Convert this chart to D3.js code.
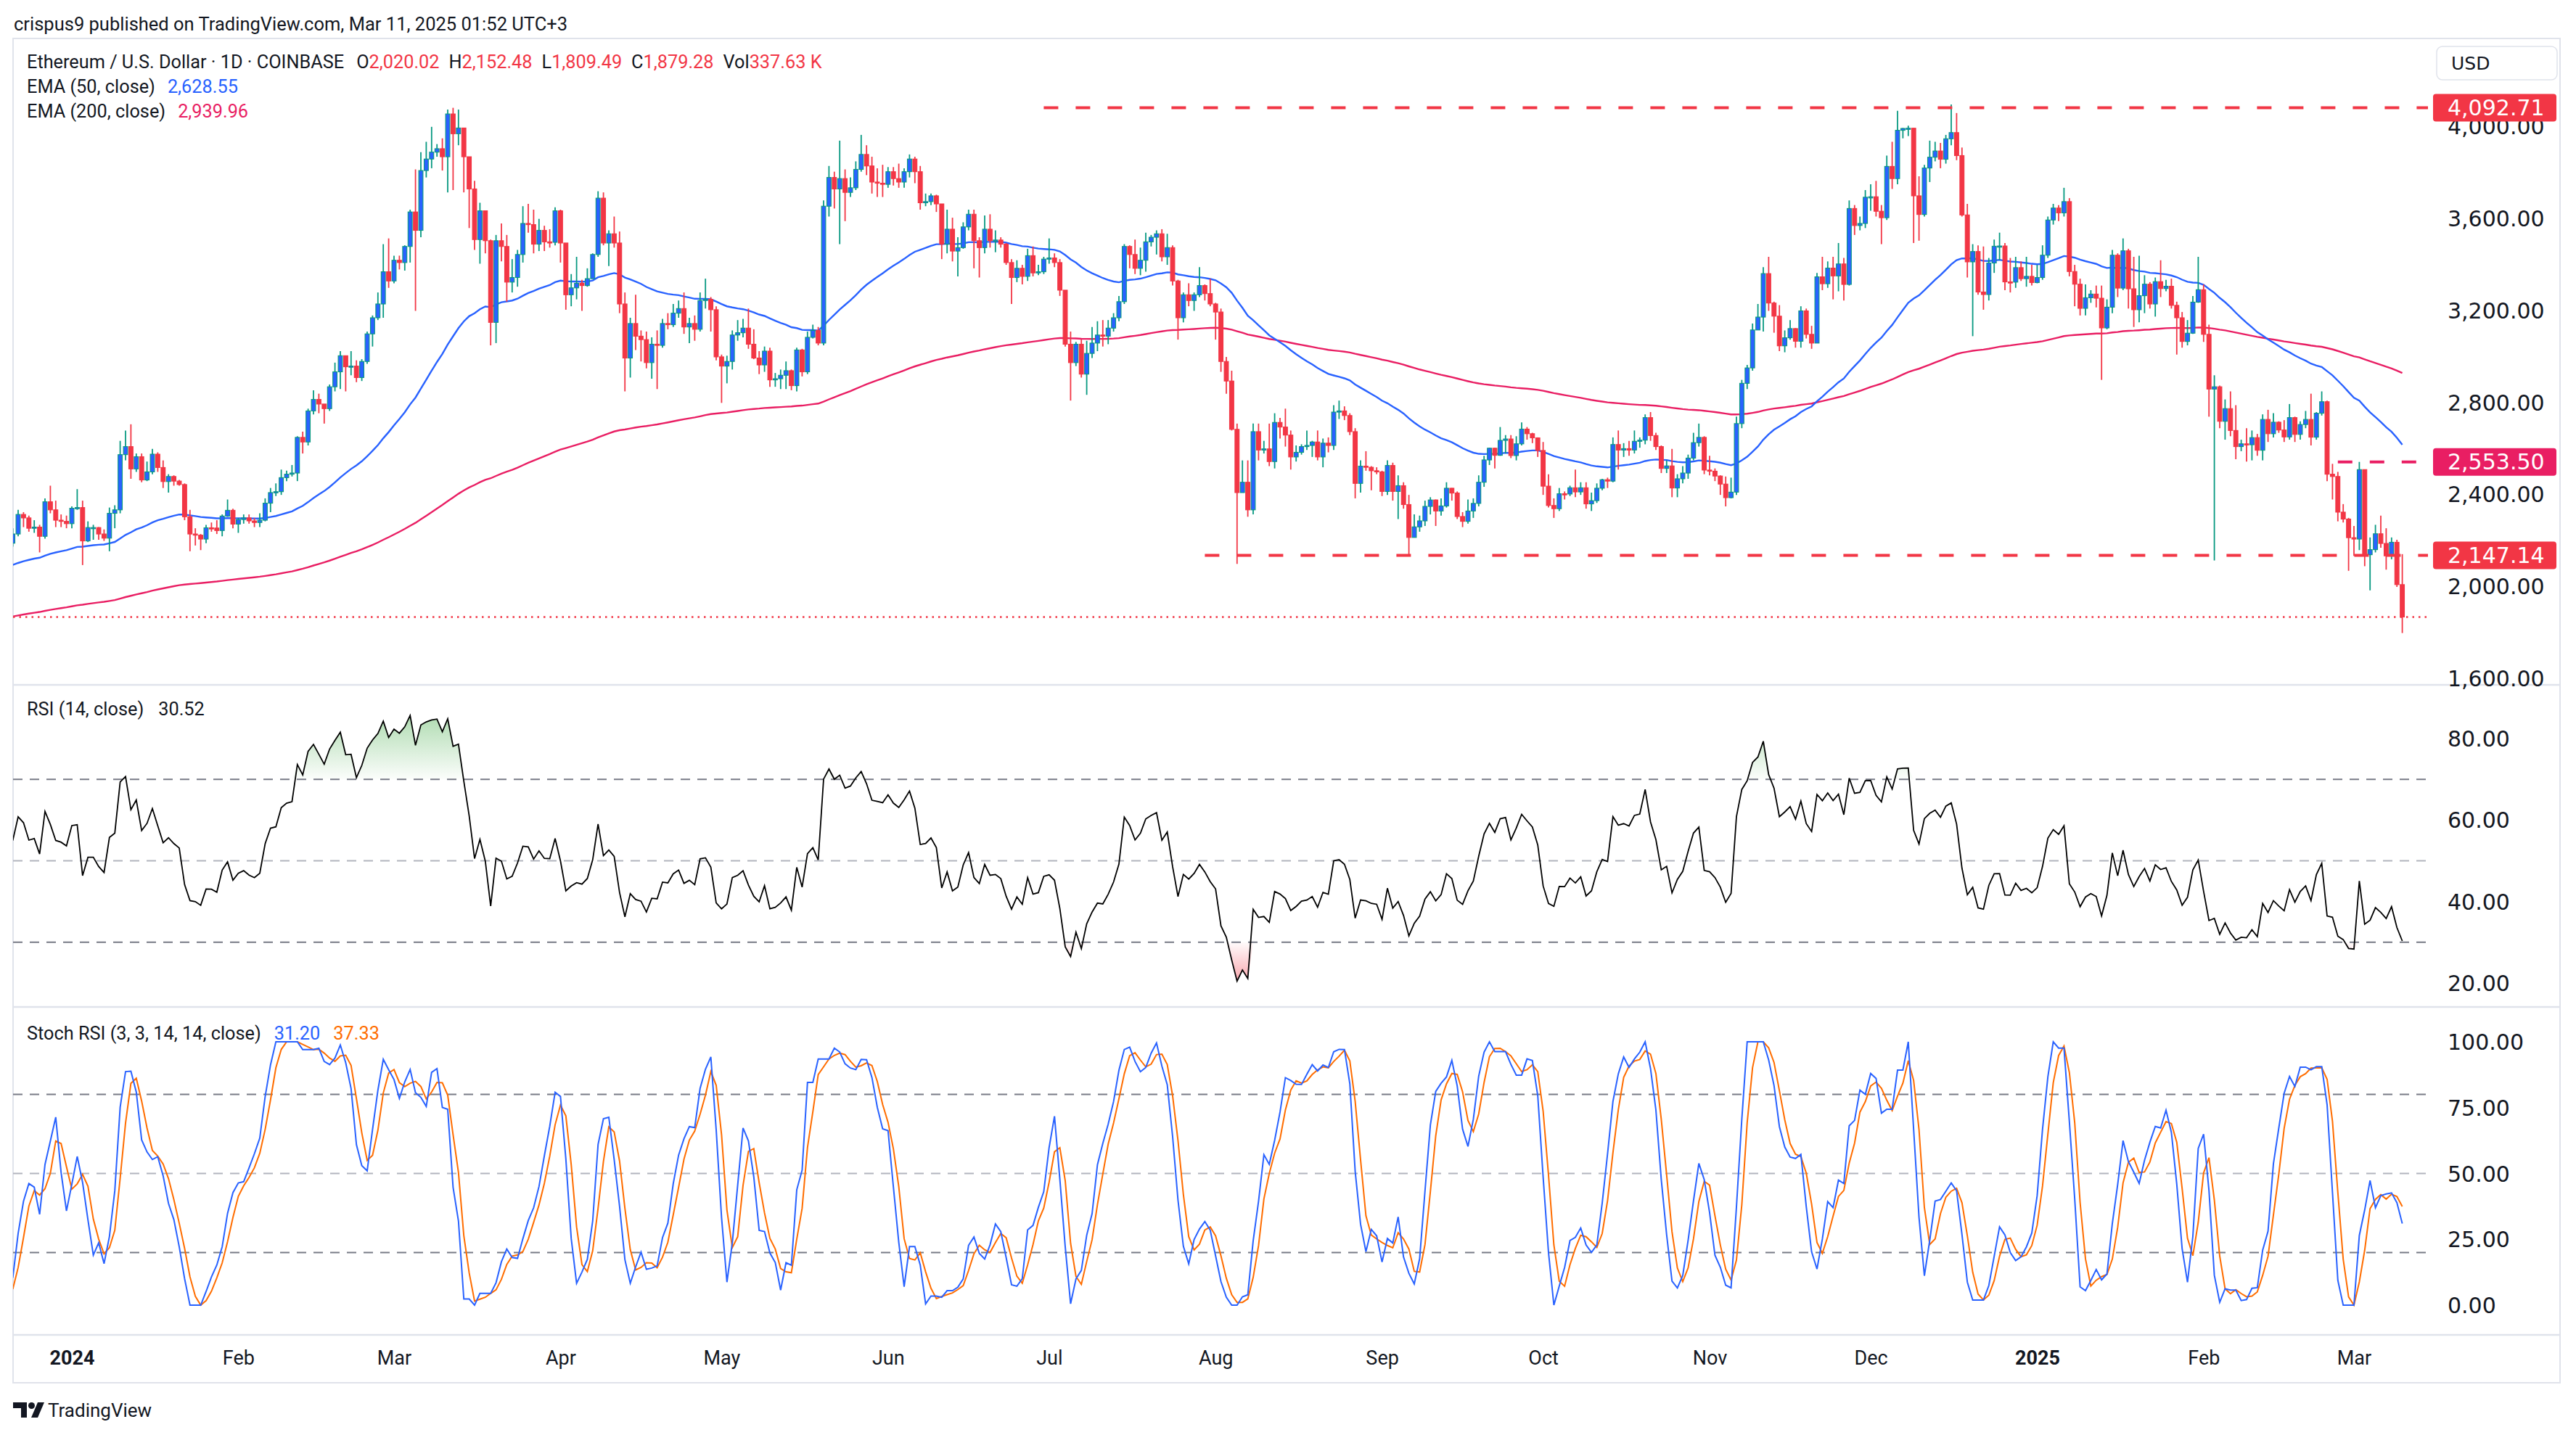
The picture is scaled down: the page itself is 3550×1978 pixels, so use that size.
<!DOCTYPE html>
<html><head><meta charset="utf-8">
<script src="https://cdn.jsdelivr.net/npm/d3@7"></script>
<style>html,body{margin:0;padding:0;background:#fff;}svg{display:block;}</style>
</head><body>
<svg id="chart" width="3550" height="1978"></svg>
<script>
// ---------------- DATA (ETH/USD daily, Coinbase) ----------------
const startDate = "2023-12-21";
// closes before the visible window (Nov 1 - Dec 20 2023) used only to warm up RSI
const warmupCloses = [1846,1795,1832,1857,1893,1900,1887,1887,2121,2077,2051,2045,2055,1980,2058,1960,1961,1963,2012,2022,1931,2063,2062,2081,2085,2064,2029,2049,2029,2052,
  2088,2165,2193,2243,2293,2232,2358,2343,2355,2352,2227,2174,2259,2314,2221,2228,2195,2218,2178,2200];
const closes = [
  2240,2325,2310,2265,2270,2230,2380,2345,2300,2295,2285,
  2352,2355,2210,2268,2268,2240,2222,2330,2345,2585,2620,2523,2576,2475,2510,2587,2529,2468,2490,2470,2455,2315,2240,2235,2218,2267,2266,2255,2318,2343,2283,
  2303,2310,2297,2290,2300,2374,2420,2424,2485,2500,2505,2660,2640,2775,2825,2805,2785,2880,2945,3015,2967,2970,2920,2990,3110,3180,3240,3380,3340,
  3430,3420,3490,3640,3560,3820,3870,3900,3915,3880,4066,3980,4005,3880,3740,3520,3645,3515,3160,3515,3490,3335,3355,3455,3590,3585,3500,3560,3510,3508,3645,
  3505,3280,3310,3330,3320,3350,3455,3700,3505,3545,3505,3240,3005,3155,3100,3085,2985,3065,3060,3155,3150,3200,3220,3140,3155,3130,3255,3260,3215,3010,
  2970,2990,3105,3115,3135,3065,3005,2975,3035,2910,2915,2930,2950,2885,3040,2945,3095,3125,3070,3665,3790,3740,3785,3725,3745,3825,3890,3840,3770,3765,3760,
  3815,3785,3770,3815,3870,3815,3680,3685,3710,3675,3500,3565,3470,3485,3575,3630,3515,3485,3565,3515,3518,3500,3420,3355,3395,3360,3450,3375,3380,3435,
  3440,3420,3300,3065,2985,3065,2935,3025,3070,3105,3100,3135,3180,3250,3490,3455,3395,3430,3510,3530,3545,3445,3485,3340,3180,3280,3255,3280,3320,3285,3240,
  3205,2990,2905,2695,2420,2465,2345,2685,2605,2610,2555,2725,2705,2670,2575,2595,2620,2625,2640,2575,2635,2625,2770,2775,2755,2685,2460,2535,2530,2515,2510,
  2425,2538,2425,2450,2368,2225,2271,2297,2360,2388,2340,2362,2439,2418,2316,2295,2340,2373,2465,2562,2613,2582,2647,2653,2581,2632,2696,2676,2658,2603,
  2448,2364,2350,2415,2414,2441,2423,2441,2371,2385,2439,2476,2470,2629,2605,2611,2605,2643,2648,2746,2668,2620,2525,2536,2440,2480,2505,2570,2637,2660,2518,
  2513,2492,2457,2398,2422,2720,2895,2962,3127,3183,3372,3244,3187,3058,3093,3133,3078,3210,3108,3070,3358,3328,3396,3362,3414,3325,3655,3581,3590,3704,
  3706,3643,3615,3838,3785,3995,4003,4004,3710,3629,3831,3878,3905,3869,3958,3985,3885,3627,3423,3468,3292,3281,3418,3491,3492,3336,3335,3398,3350,3360,3333,
  3355,3452,3605,3657,3636,3685,3381,3326,3221,3267,3283,3265,3136,3226,3452,3309,3471,3306,3215,3276,3326,3240,3337,3307,3317,3234,3180,3077,3113,3248,3302,
  3108,2870,2880,2730,2785,2690,2620,2632,2628,2659,2604,2738,2676,2726,2692,2662,2746,2673,2716,2738,2661,2765,2815,2500,2490,2335,2305,2224,
  2218,2520,2150,2172,2241,2199,2145,2204,2020.02,1879.28];
const highs = [
  2265,2345,2335,2320,2300,2280,2395,2450,2385,2325,2320,
  2360,2435,2385,2295,2280,2270,2260,2355,2365,2645,2690,2717,2590,2590,2555,2610,2595,2560,2500,2495,2475,2460,2345,2265,2240,2280,2290,2300,2325,2390,2350,
  2310,2325,2325,2310,2330,2395,2440,2460,2520,2515,2540,2665,2685,2785,2865,2850,2805,2890,2985,3035,3000,3035,2995,3000,3120,3190,3290,3500,3525,
  3450,3450,3495,3650,3825,3900,3945,4010,3935,3960,4085,4092.71,4085,4005,3830,3775,3680,3615,3520,3540,3590,3540,3435,3475,3665,3675,3650,3610,3580,3565,3660,
  3650,3505,3370,3445,3345,3395,3460,3730,3725,3560,3620,3555,3290,3180,3280,3125,3120,3095,3125,3175,3200,3240,3255,3290,3180,3190,3290,3350,3270,3230,
  3020,3015,3125,3170,3175,3220,3130,3035,3055,3050,2940,2955,2990,2955,3050,3045,3120,3150,3140,3690,3840,3815,3950,3825,3790,3860,3975,3930,3880,3830,3845,
  3835,3835,3850,3830,3890,3880,3840,3720,3720,3715,3675,3650,3615,3530,3595,3650,3650,3530,3625,3630,3560,3530,3505,3435,3430,3410,3480,3490,3410,3445,
  3525,3460,3435,3300,3120,3075,3085,3080,3140,3165,3170,3170,3200,3275,3500,3495,3520,3485,3550,3540,3560,3565,3545,3495,3345,3290,3330,3290,3400,3325,3350,
  3245,3220,3010,2950,2720,2560,2560,2720,2720,2645,2720,2765,2745,2785,2690,2625,2630,2690,2645,2690,2655,2660,2800,2820,2795,2765,2700,2560,2600,2535,2530,
  2515,2560,2550,2495,2465,2410,2325,2320,2385,2400,2390,2395,2465,2440,2425,2335,2390,2395,2495,2580,2615,2615,2705,2670,2670,2665,2725,2705,2680,2660,
  2640,2500,2395,2440,2425,2450,2520,2465,2465,2420,2460,2480,2485,2660,2690,2635,2645,2690,2660,2760,2770,2680,2625,2560,2610,2500,2535,2585,2680,2720,2665,
  2580,2525,2495,2490,2485,2750,2910,2975,3155,3240,3400,3445,3250,3235,3125,3170,3135,3230,3220,3145,3375,3445,3425,3445,3505,3440,3690,3670,3620,3735,
  3760,3775,3670,3885,3945,4080,4005,4015,4005,3795,3845,3950,3945,3940,3975,4107,4070,3920,3675,3500,3495,3490,3440,3520,3550,3505,3440,3445,3425,3445,3410,
  3410,3495,3620,3675,3670,3745,3700,3410,3350,3325,3300,3320,3320,3260,3475,3460,3525,3480,3445,3450,3365,3335,3355,3430,3345,3350,3250,3205,3170,3275,3445,
  3325,3150,2930,2885,2825,2860,2800,2650,2700,2690,2675,2760,2780,2765,2730,2735,2805,2750,2730,2775,2850,2770,2860,2820,2545,2510,2370,2310,
  2275,2553.5,2520,2225,2280,2320,2265,2225,2215,2152.48];
const lows = [
  2185,2230,2270,2250,2245,2160,2220,2330,2270,2270,2265,
  2265,2345,2105,2205,2215,2215,2210,2165,2265,2330,2560,2480,2510,2465,2470,2500,2510,2440,2420,2450,2450,2300,2165,2190,2170,2200,2250,2240,2230,2315,2265,
  2245,2285,2285,2270,2270,2295,2335,2405,2410,2470,2490,2470,2590,2625,2760,2765,2720,2775,2860,2870,2860,2930,2900,2905,2980,3055,3170,3180,3310,
  3330,3390,3385,3420,3210,3530,3790,3830,3880,3820,3725,3735,3930,3725,3570,3475,3415,3460,3060,3070,3425,3250,3290,3315,3420,3550,3460,3470,3470,3485,3495,
  3420,3215,3230,3260,3210,3315,3360,3445,3495,3405,3485,3200,2860,2920,3040,2990,2960,2915,2870,3050,3130,3140,3180,3110,3070,3080,3120,3220,3120,2995,
  2810,2895,2955,3080,3095,3045,3000,2935,2945,2880,2880,2870,2870,2865,2860,2925,2935,3090,3060,3060,3620,3655,3500,3600,3705,3735,3815,3800,3720,3705,3705,
  3745,3755,3745,3745,3790,3765,3650,3665,3670,3640,3435,3460,3425,3360,3480,3560,3395,3355,3460,3485,3465,3485,3410,3240,3335,3325,3340,3360,3365,3370,
  3415,3400,3275,3055,2820,2970,2920,2845,3005,3035,3055,3065,3120,3165,3240,3395,3370,3365,3380,3490,3455,3425,3410,3320,3085,3160,3230,3210,3270,3255,3230,
  3085,2945,2850,2690,2110,2430,2315,2325,2560,2590,2535,2525,2655,2620,2520,2555,2585,2605,2575,2560,2530,2595,2605,2740,2735,2670,2395,2420,2515,2430,2500,
  2405,2410,2385,2305,2350,2150,2225,2250,2275,2325,2275,2320,2355,2385,2305,2270,2285,2310,2360,2445,2540,2525,2580,2590,2570,2560,2625,2650,2635,2575,
  2410,2355,2310,2340,2390,2405,2400,2410,2350,2340,2375,2430,2440,2465,2520,2575,2580,2590,2615,2630,2645,2605,2505,2505,2400,2400,2460,2480,2560,2620,2500,
  2495,2470,2410,2360,2395,2410,2700,2870,2950,3150,3120,3210,3115,3035,3030,3085,3050,3050,3090,3045,3070,3300,3310,3260,3295,3255,3320,3540,3560,3570,
  3645,3620,3500,3605,3740,3760,3960,3970,3505,3515,3620,3770,3860,3830,3850,3930,3865,3620,3355,3100,3280,3215,3255,3375,3430,3300,3290,3310,3340,3315,3320,
  3330,3345,3440,3585,3600,3620,3360,3230,3190,3190,3245,3225,2910,3130,3200,3270,3300,3220,3140,3160,3200,3220,3185,3270,3295,3220,3020,3050,3060,3110,3245,
  3075,2750,2125,2700,2650,2665,2565,2600,2555,2560,2580,2560,2640,2660,2680,2640,2650,2640,2650,2700,2625,2650,2755,2470,2390,2295,2290,2080,
  2145,2170,2100,1995,2160,2180,2085,2130,2010,1809.49];
const lastVolumeK = 337.63;
// EMA values on the bar before the window
const emaStart = {ema50: 2100, ema200: 1878};
// legend readings of the last bar
const legendEma = [2628.55, 2939.96];
const legendRsi = 30.52;
const legendStoch = [31.20, 37.33];
// horizontal levels drawn on the chart
const levelPrices = [4092.71, 2147.14, 2553.50];
const levelStarts = ["2024-06-30", "2024-07-30", "2025-02-26"];
const levelColors = ["#f23645", "#f23645", "#e91e63"];
// ticks
const priceTicks = [1600, 2000, 2400, 2800, 3200, 3600, 4000];
const rsiTicks = [20, 40, 60, 80];
const stochTicks = [0, 25, 50, 75, 100];
const timeTicks = ["2024-01-01","2024-02-01","2024-03-01","2024-04-01","2024-05-01","2024-06-01","2024-07-01","2024-08-01","2024-09-01","2024-10-01","2024-11-01","2024-12-01","2025-01-01","2025-02-01","2025-03-01"];
const timeTickLabels = ["2024","Feb","Mar","Apr","May","Jun","Jul","Aug","Sep","Oct","Nov","Dec","2025","Feb","Mar"];

// ---------------- DERIVED SERIES ----------------
const d0 = new Date(startDate + "T00:00:00Z");
const data = closes.map((c, i) => ({
  date: new Date(d0.getTime() + i * 86400000),
  o: i === 0 ? warmupCloses[warmupCloses.length - 1] : closes[i - 1],
  h: highs[i], l: lows[i], c
}));
function emaSeries(len, seed) { const k = 2 / (len + 1); let v = seed; return closes.map(c => (v = c * k + v * (1 - k))); }
const ema50 = emaSeries(50, emaStart.ema50), ema200 = emaSeries(200, emaStart.ema200);
const all = warmupCloses.concat(closes);
const rsiAll = all.map(() => null);
let ag = 0, al = 0;
for (let i = 1; i < all.length; i++) {
  const ch = all[i] - all[i - 1], g = Math.max(ch, 0), l = Math.max(-ch, 0);
  if (i <= 14) { ag += g / 14; al += l / 14; if (i < 14) continue; }
  else { ag = (ag * 13 + g) / 14; al = (al * 13 + l) / 14; }
  rsiAll[i] = al === 0 ? 100 : 100 - 100 / (1 + ag / al);
}
const stAll = all.map(() => null);
for (let i = 27; i < all.length; i++) {
  const w = rsiAll.slice(i - 13, i + 1); const mn = d3.min(w), mx = d3.max(w);
  stAll[i] = mx === mn ? 0 : (rsiAll[i] - mn) / (mx - mn) * 100;
}
const sma3 = (arr, i) => (arr[i] == null || arr[i - 1] == null || arr[i - 2] == null) ? null : (arr[i] + arr[i - 1] + arr[i - 2]) / 3;
const kAll = all.map((_, i) => i >= 2 ? sma3(stAll, i) : null);
const dAll = all.map((_, i) => i >= 2 ? sma3(kAll, i) : null);
const W0 = warmupCloses.length;
data.forEach((d, i) => { d.e50 = ema50[i]; d.e200 = ema200[i]; d.rsi = rsiAll[W0 + i]; d.k = kAll[W0 + i]; d.d = dAll[W0 + i]; });

// ---------------- LAYOUT ----------------
const svg = d3.select("#chart");
const FONT = "Roboto, 'Noto Sans', 'Liberation Sans', sans-serif";
const AXF = "'DejaVu Sans', sans-serif";
const TXT = "#131722", GRID = "#e0e3eb";
const plotL = 18, plotR = 3346, frameR = 3528, axisX = 3373;
const P = {top: 53, bot: 944}, R = {top: 944, bot: 1388}, S = {top: 1388, bot: 1840}, frameBot = 1906;

const x = d3.scaleUtc().domain([new Date("2024-01-01T00:00:00Z"), new Date("2025-03-01T00:00:00Z")]).range([99, 3244]);
const yP = d3.scaleLinear().domain([1600, 4000]).range([939, 178]);
const yR = d3.scaleLinear().domain([20, 80]).range([1355, 1018]);
const yS = d3.scaleLinear().domain([0, 100]).range([1799, 1436]);

const defs = svg.append("defs");
[["cp", P], ["cr", R], ["cs", S]].forEach(([id, p]) => defs.append("clipPath").attr("id", id).append("rect").attr("x", plotL).attr("y", p.top).attr("width", plotR - plotL).attr("height", p.bot - p.top));
const gOb = defs.append("linearGradient").attr("id", "gob").attr("gradientUnits", "userSpaceOnUse").attr("x1", 0).attr("x2", 0).attr("y1", yR(86)).attr("y2", yR(70));
gOb.append("stop").attr("offset", 0).attr("stop-color", "rgba(76,175,80,0.45)");
gOb.append("stop").attr("offset", 1).attr("stop-color", "rgba(76,175,80,0.02)");
const gOs = defs.append("linearGradient").attr("id", "gos").attr("gradientUnits", "userSpaceOnUse").attr("x1", 0).attr("x2", 0).attr("y1", yR(30)).attr("y2", yR(20));
gOs.append("stop").attr("offset", 0).attr("stop-color", "rgba(242,54,69,0.02)");
gOs.append("stop").attr("offset", 1).attr("stop-color", "rgba(242,54,69,0.45)");

svg.append("rect").attr("width", 3550).attr("height", 1978).attr("fill", "#fff");
// frame
svg.append("rect").attr("x", plotL).attr("y", P.top).attr("width", frameR - plotL).attr("height", frameBot - P.top).attr("fill", "none").attr("stroke", GRID).attr("stroke-width", 2);
[R.top, S.top, S.bot].forEach(yy => svg.append("line").attr("x1", plotL).attr("x2", frameR).attr("y1", yy).attr("y2", yy).attr("stroke", GRID).attr("stroke-width", 2.5));

// ---------------- PRICE PANE ----------------
const gp = svg.append("g").attr("clip-path", "url(#cp)");
const eLine = key => d3.line().x(d => x(d.date)).y(d => yP(d[key]));
gp.append("path").datum(data).attr("d", eLine("e200")).attr("fill", "none").attr("stroke", "#e91e63").attr("stroke-width", 2.4);
gp.append("path").datum(data).attr("d", eLine("e50")).attr("fill", "none").attr("stroke", "#2962ff").attr("stroke-width", 2.4);
const last = data[data.length - 1];
gp.append("line").attr("x1", plotL).attr("x2", plotR).attr("y1", yP(last.c)).attr("y2", yP(last.c)).attr("stroke", "#f23645").attr("stroke-width", 2.5).attr("stroke-dasharray", "2.5 6");
const up = d => d.c >= d.o;
const cg = gp.append("g").selectAll("g").data(data).join("g");
cg.append("line").attr("x1", d => x(d.date)).attr("x2", d => x(d.date))
  .attr("y1", d => yP(Math.max(d.h, d.o, d.c))).attr("y2", d => yP(Math.min(d.l, d.o, d.c)))
  .attr("stroke", d => up(d) ? "#089981" : "#f23645").attr("stroke-width", 1.8);
cg.append("rect").attr("x", d => x(d.date) - 2.9).attr("width", 5.8)
  .attr("y", d => yP(Math.max(d.o, d.c))).attr("height", d => Math.max(1.6, Math.abs(yP(d.o) - yP(d.c))))
  .attr("fill", d => up(d) ? "#2962ff" : "#f23645").attr("stroke", d => up(d) ? "#089981" : "#f23645").attr("stroke-width", 1.1);
levelPrices.forEach((p, i) => {
  gp.append("line").attr("x1", x(new Date(levelStarts[i] + "T00:00:00Z"))).attr("x2", plotR).attr("y1", yP(p)).attr("y2", yP(p))
    .attr("stroke", levelColors[i]).attr("stroke-width", 4).attr("stroke-dasharray", "20 24");
});
const fmt2 = d3.format(",.2f");
svg.append("g").attr("transform", `translate(${axisX},0)`).call(d3.axisRight(yP).tickValues(priceTicks).tickSize(0).tickPadding(0).tickFormat(fmt2))
  .call(g => g.select(".domain").remove())
  .selectAll("text").attr("dy", "-4").attr("dominant-baseline", "central").attr("font-family", AXF).attr("font-size", 30).attr("fill", TXT);
levelPrices.forEach((p, i) => {
  svg.append("rect").attr("x", 3353).attr("y", yP(p) - 19).attr("width", 170).attr("height", 38).attr("rx", 4).attr("fill", levelColors[i]);
  svg.append("text").attr("x", axisX).attr("y", yP(p)).attr("dominant-baseline", "central").attr("font-family", AXF).attr("font-size", 30).attr("fill", "#fff").text(fmt2(p));
});
svg.append("rect").attr("x", 3358).attr("y", 64).attr("width", 166).attr("height", 46).attr("rx", 8).attr("fill", "#fff").attr("stroke", GRID).attr("stroke-width", 1.5);
svg.append("text").attr("x", 3378).attr("y", 87).attr("dominant-baseline", "central").attr("font-family", AXF).attr("font-size", 25).attr("fill", TXT).text("USD");

// ---------------- RSI PANE ----------------
const gr = svg.append("g").attr("clip-path", "url(#cr)");
const rd = data.filter(d => d.rsi != null);
gr.append("path").datum(rd).attr("fill", "url(#gob)").attr("d", d3.area().x(d => x(d.date)).y0(yR(70)).y1(d => yR(Math.max(70, d.rsi))));
gr.append("path").datum(rd).attr("fill", "url(#gos)").attr("d", d3.area().x(d => x(d.date)).y0(yR(30)).y1(d => yR(Math.min(30, d.rsi))));
[[70, "#787b86"], [50, "#b2b5be"], [30, "#787b86"]].forEach(([v, c]) => gr.append("line").attr("x1", plotL).attr("x2", plotR).attr("y1", yR(v)).attr("y2", yR(v)).attr("stroke", c).attr("stroke-width", 2).attr("stroke-dasharray", "13 10"));
gr.append("path").datum(rd).attr("d", d3.line().x(d => x(d.date)).y(d => yR(d.rsi))).attr("fill", "none").attr("stroke", "#000").attr("stroke-width", 1.8);
svg.append("g").attr("transform", `translate(${axisX},0)`).call(d3.axisRight(yR).tickValues(rsiTicks).tickSize(0).tickPadding(0).tickFormat(d3.format(".2f")))
  .call(g => g.select(".domain").remove())
  .selectAll("text").attr("dy", null).attr("dominant-baseline", "central").attr("font-family", AXF).attr("font-size", 30).attr("fill", TXT);

// ---------------- STOCH RSI PANE ----------------
const gs = svg.append("g").attr("clip-path", "url(#cs)");
[[80, "#787b86"], [50, "#b2b5be"], [20, "#787b86"]].forEach(([v, c]) => gs.append("line").attr("x1", plotL).attr("x2", plotR).attr("y1", yS(v)).attr("y2", yS(v)).attr("stroke", c).attr("stroke-width", 2).attr("stroke-dasharray", "13 10"));
const kd = data.filter(d => d.k != null && d.d != null);
gs.append("path").datum(kd).attr("d", d3.line().x(d => x(d.date)).y(d => yS(d.d))).attr("fill", "none").attr("stroke", "#ff6d00").attr("stroke-width", 2);
gs.append("path").datum(kd).attr("d", d3.line().x(d => x(d.date)).y(d => yS(d.k))).attr("fill", "none").attr("stroke", "#2962ff").attr("stroke-width", 2);
svg.append("g").attr("transform", `translate(${axisX},0)`).call(d3.axisRight(yS).tickValues(stochTicks).tickSize(0).tickPadding(0).tickFormat(d3.format(".2f")))
  .call(g => g.select(".domain").remove())
  .selectAll("text").attr("dy", null).attr("dominant-baseline", "central").attr("font-family", AXF).attr("font-size", 30).attr("fill", TXT);

// ---------------- TIME AXIS ----------------
svg.append("g").attr("transform", "translate(0,1872)")
  .call(d3.axisBottom(x).tickValues(timeTicks.map(s => new Date(s + "T00:00:00Z"))).tickSize(0).tickPadding(0).tickFormat((d, i) => timeTickLabels[i]))
  .call(g => g.select(".domain").remove())
  .selectAll("text").attr("y", 0).attr("dy", null).attr("dominant-baseline", "central").attr("font-family", FONT).attr("font-size", 27).attr("fill", TXT)
  .attr("font-weight", (d, i) => /^\d{4}$/.test(timeTickLabels[i]) ? 700 : 400);

// ---------------- LEGENDS ----------------
function row(x0, y, parts) {
  let xx = x0;
  parts.forEach(p => {
    xx += p.gap || 0;
    const t = svg.append("text").attr("x", xx).attr("y", y).attr("dominant-baseline", "central")
      .attr("font-family", FONT).attr("font-size", p.size || 25.3).attr("fill", p.color || TXT).text(p.text);
    xx += t.node().getComputedTextLength();
  });
}
const RED = "#f23645";
row(19, 33, [{text: "crispus9 published on TradingView.com, Mar 11, 2025 01:52 UTC+3", size: 25.5}]);
row(37, 85, [
  {text: "Ethereum / U.S. Dollar · 1D · COINBASE"},
  {text: "O", gap: 17}, {text: fmt2(last.o), color: RED},
  {text: "H", gap: 13}, {text: fmt2(last.h), color: RED},
  {text: "L", gap: 13}, {text: fmt2(last.l), color: RED},
  {text: "C", gap: 13}, {text: fmt2(last.c), color: RED},
  {text: "Vol", gap: 13}, {text: d3.format(".2f")(lastVolumeK) + " K", color: RED}
]);
row(37, 119, [{text: "EMA (50, close)"}, {text: fmt2(legendEma[0]), color: "#2962ff", gap: 17}]);
row(37, 153, [{text: "EMA (200, close)"}, {text: fmt2(legendEma[1]), color: "#e91e63", gap: 17}]);
row(37, 977, [{text: "RSI (14, close)"}, {text: d3.format(".2f")(legendRsi), gap: 20}]);
row(37, 1424, [{text: "Stoch RSI (3, 3, 14, 14, close)"}, {text: d3.format(".2f")(legendStoch[0]), color: "#2962ff", gap: 18}, {text: d3.format(".2f")(legendStoch[1]), color: "#ff6d00", gap: 18}]);

// ---------------- FOOTER LOGO ----------------
const lg = svg.append("g").attr("fill", TXT);
lg.append("path").attr("d", "M18,1933 H37 V1954 H29 V1941 H18 Z");
lg.append("circle").attr("cx", 43.5).attr("cy", 1937.5).attr("r", 4.5);
lg.append("path").attr("d", "M52,1933 H61 L52,1954 H43 Z");
row(66, 1944, [{text: "TradingView", size: 26}]);
</script>
</body></html>
